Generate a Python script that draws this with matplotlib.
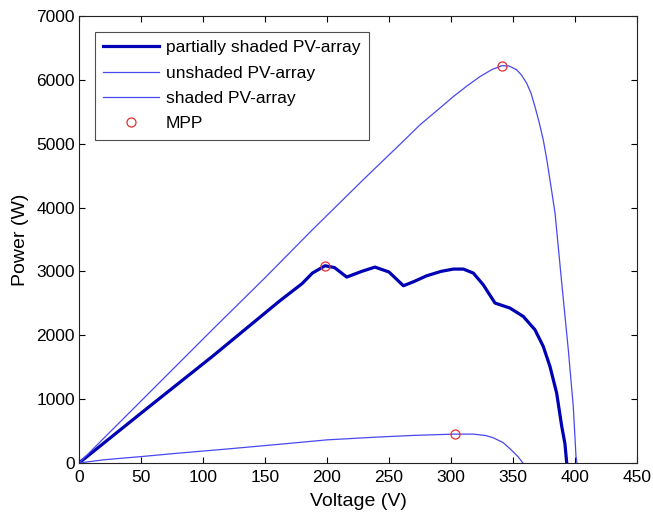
import matplotlib
matplotlib.use('Agg')
import matplotlib.pyplot as plt

plt.rcParams['font.family'] = ['Liberation Sans', 'DejaVu Sans']

# unshaded PV-array
v_unsh = [0, 50, 107.5, 150, 188.2, 230, 260, 275, 290, 301.9, 313, 323.4, 333,
          341.4, 347, 353, 357, 361, 364.5, 367.7, 371, 374.4, 377, 379.8,
          383.9, 389.3, 394.6, 398.6, 400.8, 401.6]
p_unsh = [0, 970, 2086, 2900, 3651, 4450, 5010, 5295, 5540, 5737, 5905, 6050,
          6160, 6222, 6215, 6155, 6070, 5947, 5790, 5580, 5340, 5059, 4780,
          4433, 3912, 2817, 1773, 886, 103, 0]

# partially shaded PV-array
v_part = [0, 53.5, 107.5, 161.3, 180, 188.2, 198.4, 206, 215.9, 228, 238.7, 250,
          261.6, 270, 280.4, 292, 301.9, 310, 318, 326, 335.5, 347.6, 358.3,
          367.7, 374.4, 379.8, 385.2, 389.3, 391.9, 393.3]
p_part = [0, 834, 1668, 2529, 2810, 2973, 3088, 3060, 2911, 3000, 3067, 2990,
          2775, 2840, 2931, 3000, 3036, 3036, 2973, 2790, 2504, 2425, 2294,
          2086, 1825, 1512, 1095, 573, 300, 0]

# shaded PV-array
v_sh = [0, 20, 50, 81.5, 120, 160, 200, 240, 270, 303, 318, 328, 334, 342,
        348, 354, 358]
p_sh = [0, 50, 100, 156, 220, 290, 362, 405, 432, 452, 452, 430, 395, 320,
        215, 100, 0]

# maximum power points
v_mpp = [198.4, 341.4, 303.2]
p_mpp = [3088, 6222, 454]

fig = plt.figure(figsize=(6.53, 5.13), dpi=100)
ax = fig.add_axes([0.121, 0.0975, 0.8545, 0.8715])

ax.plot(v_part, p_part, color='#0000b4', lw=2.3, label='partially shaded PV-array')
ax.plot(v_unsh, p_unsh, color='#4848f0', lw=0.9, label='unshaded PV-array')
ax.plot(v_sh, p_sh, color='#4848f0', lw=0.9, label='shaded PV-array')
ax.plot(v_mpp, p_mpp, 'o', mfc='none', mec='#e03030', ms=6.5, mew=0.9,
        label='MPP', zorder=5)

ax.set_xlim(0, 450)
ax.set_ylim(0, 7000)
ax.set_xticks(range(0, 451, 50))
ax.set_yticks(range(0, 7001, 1000))
ax.tick_params(direction='in', top=True, right=True, labelsize=12.5, length=4,
               width=0.8)
ax.tick_params(axis='x', pad=5)
ax.tick_params(axis='y', pad=3)
for s in ax.spines.values():
    s.set_linewidth(0.8)
    s.set_color('#222222')
ax.set_xlabel('Voltage (V)', fontsize=14, labelpad=6)
ax.set_ylabel('Power (W)', fontsize=14, labelpad=5)

leg = ax.legend(loc='upper left', fontsize=12.5, frameon=True, fancybox=False,
                edgecolor='#222222', handlelength=3.2, handletextpad=0.4,
                labelspacing=0.58, borderpad=0.5, borderaxespad=0.9)
leg.get_frame().set_linewidth(0.8)

fig.savefig('out.png', dpi=100)
